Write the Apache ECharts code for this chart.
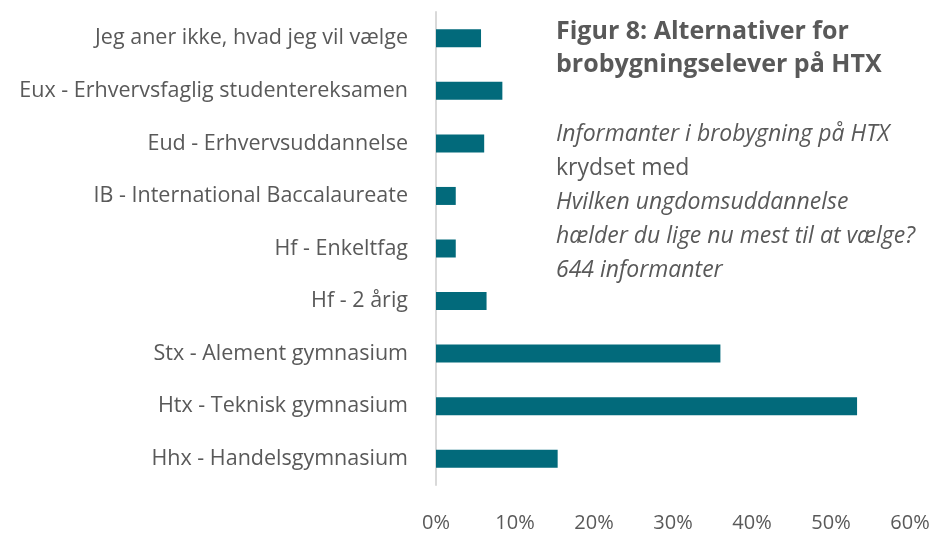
<!DOCTYPE html>
<html><head><meta charset="utf-8">
<script src="https://cdn.jsdelivr.net/npm/echarts@6/dist/echarts.min.js"></script>
<style>html,body{margin:0;padding:0;background:#fff}#c{width:934px;height:533px}</style>
</head><body><div id="c"></div>
<script>
const categories = [
  "Jeg aner ikke, hvad jeg vil vælge",
  "Eux - Erhvervsfaglig studentereksamen",
  "Eud - Erhvervsuddannelse",
  "IB - International Baccalaureate",
  "Hf - Enkeltfag",
  "Hf - 2 årig",
  "Stx - Alement gymnasium",
  "Htx - Teknisk gymnasium",
  "Hhx - Handelsgymnasium"
];
const values = [5.7, 8.4, 6.1, 2.5, 2.5, 6.4, 36.0, 53.3, 15.4];
const xTicks = [0, 10, 20, 30, 40, 50, 60];

const FONT = "Open Sans";
const chart = echarts.init(document.getElementById('c'));
chart.setOption({
  animation: false,
  textStyle: { fontFamily: FONT },
  title: [
    {
      text: "Figur 8: Alternativer for\nbrobygningselever på HTX",
      left: 551, top: 10,
      textStyle: { fontFamily: FONT, fontSize: 25, fontWeight: 'bold', color: '#595959', lineHeight: 33 }
    },
    {
      text: "{i|Informanter i brobygning på HTX}\n{n|krydset med}\n{i|Hvilken ungdomsuddannelse}\n{i|hælder du lige nu mest til at vælge?}\n{i|644 informanter}",
      left: 551, top: 112,
      textStyle: {
        fontWeight: 'normal',
        rich: {
          i: { fontFamily: FONT, fontSize: 23, fontStyle: 'italic', fontWeight: 'normal', color: '#595959', lineHeight: 34 },
          n: { fontFamily: FONT, fontSize: 23, fontWeight: 'normal', color: '#595959', lineHeight: 34 }
        }
      }
    }
  ],
  grid: { left: 436, right: 24, top: 12, bottom: 46, containLabel: false },
  xAxis: {
    type: 'value', min: xTicks[0], max: xTicks[xTicks.length - 1], interval: 10,
    axisLine: { show: false }, axisTick: { show: false }, splitLine: { show: false },
    axisLabel: { formatter: v => v + '%', fontSize: 20, color: '#595959', margin: 28, fontFamily: FONT }
  },
  yAxis: {
    type: 'category', data: categories, inverse: true,
    axisLine: { show: true, lineStyle: { color: '#d9d9d9', width: 2 } },
    axisTick: { show: false },
    axisLabel: { fontSize: 21.5, color: '#595959', margin: 28, fontFamily: FONT }
  },
  series: [{
    type: 'bar', data: values, barWidth: 18,
    itemStyle: { color: '#026a7b' }
  }]
});
</script></body></html>
